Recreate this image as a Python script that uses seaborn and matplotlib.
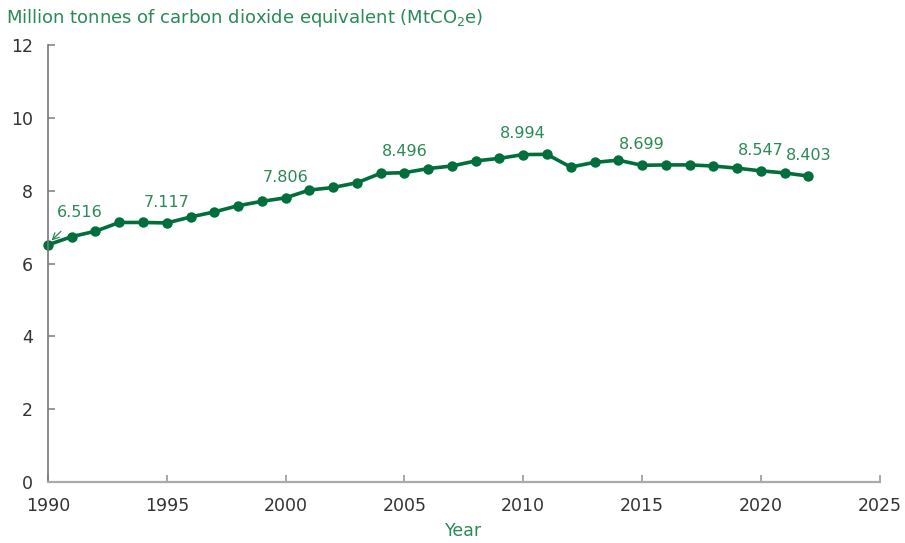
import matplotlib
matplotlib.use("Agg")
import matplotlib.pyplot as plt
import seaborn as sns
import pandas as pd

years = list(range(1990, 2023))
values = [6.516, 6.74, 6.89, 7.13, 7.13, 7.117, 7.28, 7.42, 7.59, 7.71, 7.806,
          8.02, 8.09, 8.22, 8.48, 8.496, 8.61, 8.68, 8.82, 8.89, 8.994, 9.00,
          8.65, 8.78, 8.84, 8.699, 8.71, 8.71, 8.68, 8.62, 8.547, 8.49, 8.403]
label_years = [1995, 2000, 2005, 2010, 2015, 2020, 2022]
x_ticks = [1990, 1995, 2000, 2005, 2010, 2015, 2020, 2025]
y_ticks = [0, 2, 4, 6, 8, 10, 12]

df = pd.DataFrame({"Year": years, "Value": values})

sns.set_style("white")
plt.rcParams['font.family'] = ['DejaVu Sans']

line_col = "#006f3c"
text_col = "#2a8a55"

fig = plt.figure(figsize=(9.05, 5.43), dpi=100)
ax = fig.add_axes([0.053, 0.112, 0.919, 0.805])
sns.lineplot(data=df, x="Year", y="Value", ax=ax, color=line_col, linewidth=2.6,
             marker="o", markersize=7.5, markeredgewidth=0, clip_on=False)

ax.set_xlim(1990, 2025)
ax.set_ylim(0, 12)
ax.set_xticks(x_ticks)
ax.set_yticks(y_ticks)
ax.tick_params(axis="x", bottom=True, direction="in", length=5, width=1.2, color="#999999",
               labelsize=12.5, pad=11, labelcolor="#333333")
ax.tick_params(axis="y", left=True, direction="in", length=5, width=1.2, color="#888888",
               labelsize=12.5, pad=11, labelcolor="#333333")
sns.despine(ax=ax)
ax.spines["left"].set_color("#777777")
ax.spines["left"].set_linewidth(1.2)
ax.spines["bottom"].set_color("#aaaaaa")
ax.spines["bottom"].set_linewidth(1.6)

ax.set_xlabel("Year", color=text_col, fontsize=12.5, labelpad=5)
ax.set_ylabel("")
fig.text(0.007, 0.988, r"Million tonnes of carbon dioxide equivalent (MtCO$_2$e)",
         color=text_col, fontsize=13, ha="left", va="top")

for yr in label_years:
    v = values[years.index(yr)]
    ax.annotate(f"{v:.3f}", (yr, v), xytext=(0, 15), textcoords="offset points",
                ha="center", va="center", color=text_col, fontsize=11.5)

# first value with arrow
ax.annotate(f"{values[0]:.3f}", xy=(years[0] + 0.15, values[0] + 0.12),
            xytext=(years[0] + 1.35, values[0] + 0.88),
            ha="center", va="center", color=text_col, fontsize=11.5,
            arrowprops=dict(arrowstyle="->", color=text_col, lw=0.9,
                            shrinkA=8, shrinkB=0))

fig.savefig("out.png", dpi=100)
